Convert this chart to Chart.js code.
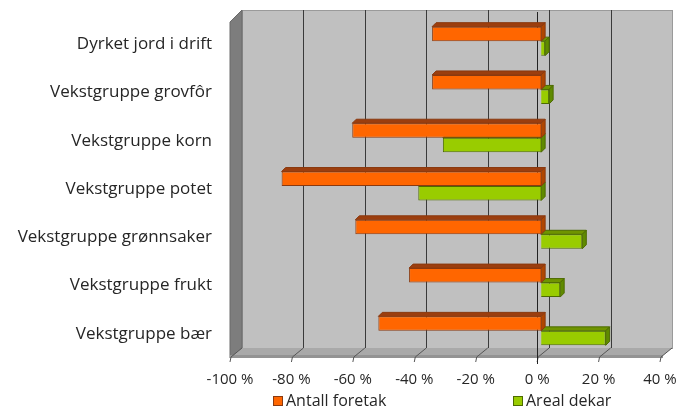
<!DOCTYPE html>
<html><head><meta charset="utf-8">
<script src="https://cdn.jsdelivr.net/npm/chart.js@4/dist/chart.umd.min.js"></script>
<style>html,body{margin:0;padding:0;background:#fff;}#wrap{width:680px;height:410px;position:relative;}</style>
</head><body><div id="wrap"><canvas id="c"></canvas></div>
<script>
const categories = ['Dyrket jord i drift','Vekstgruppe grovfôr','Vekstgruppe korn','Vekstgruppe potet','Vekstgruppe grønnsaker','Vekstgruppe frukt','Vekstgruppe bær'];
const antallForetak = [-35.5, -35.5, -61.5, -84.5, -60.5, -43, -53];
const arealDekar = [1.3, 2.6, -32, -40, 13.4, 6.2, 21];
const seriesNames = ['Antall foretak','Areal dekar'];
const xMin = -100, xMax = 40, xStep = 20;

const FONT = '"Open Sans", "Noto Sans", sans-serif';
const WALL = {dx: 12, dy: 10};
const BAR_SHIFT = {dx: 4, dy: -3};
const FACE = 4;
const styles = [
  {front:'#ff6600', top:'#9c3e0e', side:'#b04600', border:'#8a3a10'},
  {front:'#99cc00', top:'#6f9400', side:'#5f8a00', border:'#4d6b00'}
];

const scene3d = {
  id:'scene3d',
  beforeDraw(chart){
    const {ctx, chartArea:a, scales:{x}} = chart;
    ctx.save();
    ctx.fillStyle = '#c0c0c0';
    ctx.fillRect(a.left+WALL.dx, a.top-WALL.dy, a.right-a.left, a.bottom-a.top);
    ctx.strokeStyle = '#9a9a9a'; ctx.lineWidth = 1;
    ctx.strokeRect(a.left+WALL.dx+0.5, a.top-WALL.dy+0.5, a.right-a.left, a.bottom-a.top);
    ctx.strokeStyle = '#3a3a3a';
    x.ticks.forEach(t => {
      if (t.value === xMin || t.value === xMax) return;
      const px = Math.round(x.getPixelForValue(t.value)) + WALL.dx + 0.5;
      ctx.beginPath(); ctx.moveTo(px, a.top-WALL.dy); ctx.lineTo(px, a.bottom-WALL.dy); ctx.stroke();
    });
    ctx.fillStyle = '#7d7d7d';
    ctx.beginPath();
    ctx.moveTo(a.left, a.top+2); ctx.lineTo(a.left+WALL.dx, a.top-WALL.dy);
    ctx.lineTo(a.left+WALL.dx, a.bottom-WALL.dy); ctx.lineTo(a.left, a.bottom);
    ctx.closePath(); ctx.fill();
    ctx.strokeStyle = '#6a6a6a'; ctx.stroke();
    ctx.fillStyle = '#a9a9a9';
    ctx.beginPath();
    ctx.moveTo(a.left, a.bottom); ctx.lineTo(a.right, a.bottom);
    ctx.lineTo(a.right+WALL.dx, a.bottom-WALL.dy); ctx.lineTo(a.left+WALL.dx, a.bottom-WALL.dy);
    ctx.closePath(); ctx.fill();
    ctx.fillStyle = '#939393';
    ctx.fillRect(a.left, a.bottom-3, a.right-a.left+3, 3);
    ctx.strokeStyle = '#555';
    x.ticks.forEach(t => {
      const px = x.getPixelForValue(t.value);
      ctx.beginPath(); ctx.moveTo(px+WALL.dx, a.bottom-WALL.dy); ctx.lineTo(px+1, a.bottom-1); ctx.lineTo(px, a.bottom+4); ctx.stroke();
    });
    ctx.restore();
  },
  beforeDatasetsDraw(chart){
    const {ctx, chartArea:a, scales:{x}} = chart;
    const z = Math.round(x.getPixelForValue(0)) + 0.5;
    ctx.save();
    ctx.strokeStyle = '#222'; ctx.lineWidth = 1;
    ctx.beginPath(); ctx.moveTo(z, a.top-WALL.dy+2); ctx.lineTo(z, a.bottom+6); ctx.stroke();
    ctx.restore();
    ctx.save();
    ctx.translate(BAR_SHIFT.dx, BAR_SHIFT.dy);
  },
  afterDatasetDraw(chart, args){
    const {ctx} = chart;
    const st = styles[args.index];
    const meta = chart.getDatasetMeta(args.index);
    meta.data.forEach(el => {
      const p = el.getProps(['x','y','base','height'], true);
      const l = Math.min(p.x, p.base), r = Math.max(p.x, p.base);
      const t = p.y - p.height/2, b = p.y + p.height/2;
      ctx.save();
      ctx.lineWidth = 1; ctx.strokeStyle = st.border;
      ctx.fillStyle = st.top;
      ctx.beginPath(); ctx.moveTo(l,t); ctx.lineTo(l+FACE,t-FACE); ctx.lineTo(r+FACE,t-FACE); ctx.lineTo(r,t); ctx.closePath(); ctx.fill(); ctx.stroke();
      ctx.fillStyle = st.side;
      ctx.beginPath(); ctx.moveTo(r,t); ctx.lineTo(r+FACE,t-FACE); ctx.lineTo(r+FACE,b-FACE); ctx.lineTo(r,b); ctx.closePath(); ctx.fill(); ctx.stroke();
      ctx.restore();
    });
  },
  afterDatasetsDraw(chart){ chart.ctx.restore(); },
  afterDraw(chart){
    const {ctx} = chart;
    const items = [{x:273, label:seriesNames[0], st:styles[0]},{x:513, label:seriesNames[1], st:styles[1]}];
    ctx.save();
    ctx.font = '16px ' + FONT; ctx.textBaseline = 'middle';
    items.forEach(it => {
      ctx.fillStyle = it.st.front; ctx.fillRect(it.x, 396, 10, 10);
      ctx.strokeStyle = it.st.border; ctx.strokeRect(it.x+0.5, 396.5, 9, 9);
      ctx.fillStyle = '#262626'; ctx.fillText(it.label, it.x+13, 401);
    });
    ctx.restore();
  }
};

new Chart(document.getElementById('c'), {
  type:'bar',
  data:{
    labels: categories,
    datasets:[
      {label:seriesNames[0], data:antallForetak, backgroundColor:styles[0].front, borderColor:styles[0].border, borderWidth:1},
      {label:seriesNames[1], data:arealDekar, backgroundColor:styles[1].front, borderColor:styles[1].border, borderWidth:1}
    ]
  },
  options:{
    indexAxis:'y', responsive:true, maintainAspectRatio:false, animation:false,
    categoryPercentage:0.6, barPercentage:1.0,
    layout:{padding:{top:20, right:20, left:0, bottom:0}},
    plugins:{legend:{display:false}, tooltip:{enabled:false}},
    scales:{
      x:{min:xMin, max:xMax, grid:{display:false, drawTicks:false}, border:{display:false},
         ticks:{stepSize:xStep, padding:13, color:'#262626', font:{family:FONT, size:15}, callback:v=>v+' %'},
         afterFit(s){ s.height = 52; s.paddingLeft = 0; s.paddingRight = 0; }},
      y:{grid:{display:false, drawTicks:false}, border:{display:false},
         ticks:{padding:18, color:'#262626', font:{family:FONT, size:17}},
         afterFit(s){ s.width = 230; s.paddingTop = 0; s.paddingBottom = 0; }}
    }
  },
  plugins:[scene3d]
});
</script></body></html>
